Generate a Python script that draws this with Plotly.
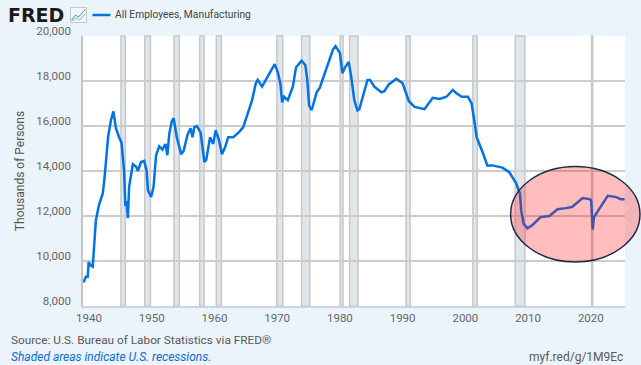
import plotly.graph_objects as go

years = [1939.15,1939.5,1939.8,1939.95,1940.3,1940.6,1941.1,1941.6,1942.2,1942.45,1943.05,1943.5,1943.9,1944.3,1944.8,1945.2,1945.6,1945.8,1946.0,1946.2,1946.4,1947.0,1947.5,1947.8,1948.3,1948.8,1949.2,1949.4,1949.9,1950.3,1950.7,1951.2,1951.7,1952.2,1952.5,1952.8,1953.2,1953.5,1954.0,1954.7,1955.1,1955.7,1956.2,1956.5,1956.8,1957.2,1957.8,1958.4,1958.7,1959.3,1959.8,1960.2,1960.7,1961.2,1961.7,1962.2,1963.0,1964.0,1964.6,1965.4,1966.0,1966.6,1966.9,1967.6,1968.4,1968.9,1969.6,1970.1,1970.5,1970.8,1971.1,1971.7,1972.5,1973.0,1973.9,1974.5,1974.8,1975.1,1975.5,1976.3,1976.8,1977.6,1978.4,1978.9,1979.3,1980.0,1980.4,1980.8,1981.4,1981.8,1982.3,1982.8,1983.1,1983.8,1984.4,1984.8,1985.5,1986.6,1987.1,1987.8,1989.0,1990.0,1991.0,1991.9,1992.7,1993.5,1994.8,1995.9,1997.0,1998.0,1998.6,1999.4,2000.4,2001.0,2001.5,2001.8,2002.8,2003.5,2004.3,2005.9,2007.0,2008.1,2008.7,2008.9,2009.3,2009.9,2010.7,2012.0,2013.4,2014.7,2016.0,2017.0,2018.7,2019.8,2020.05,2020.3,2020.5,2021.2,2022.7,2023.9,2024.8,2025.4]
employees = [9050,9300,9300,9950,9800,9750,11800,12500,13000,13600,15500,16250,16650,15900,15500,15250,14000,12450,12650,11900,13300,14300,14200,14000,14400,14450,14000,13150,12850,13300,14700,15100,14950,15200,14700,15650,16200,16350,15500,14750,14900,15600,15900,15500,15950,16000,15700,14400,14500,15500,15200,15800,15400,14750,15050,15500,15500,15750,15950,16600,17150,17900,18050,17750,18150,18350,18750,18400,17900,17050,17300,17150,17750,18600,18900,18700,18050,16900,16700,17500,17700,18350,19000,19400,19550,19250,18350,18600,18850,18200,17150,16700,16750,17450,18050,18050,17750,17500,17550,17850,18100,17900,17100,16850,16800,16750,17250,17200,17300,17600,17450,17300,17300,17000,16100,15500,14800,14250,14250,14150,13950,13450,13000,12250,11650,11450,11600,11950,12000,12300,12350,12400,12800,12750,12700,11400,11950,12250,12900,12850,12750,12750]
recession_start = [1945.1,1948.9,1953.55,1957.65,1960.3,1969.95,1973.9,1980.05,1981.55,1990.55,2001.2,2007.95,2020.12]
recession_end = [1945.8,1949.8,1954.4,1958.35,1961.1,1970.9,1975.2,1980.5,1982.9,1991.2,2001.9,2009.5,2020.3]
y_ticks = [8000,10000,12000,14000,16000,18000,20000]
x_ticks = [1940,1950,1960,1970,1980,1990,2000,2010,2020]
series_name = "All Employees, Manufacturing"

W, H = 641, 365
L, R, T, B = 82.5, 625, 36, 306
px = lambda v: (v - L) / (R - L)
py = lambda v: (B - v) / (B - T)

shapes = []
for s, e in zip(recession_start, recession_end):
    shapes.append(dict(type="rect", xref="x", yref="paper", x0=s, x1=e, y0=0, y1=1,
                       fillcolor="#e1e6eb", line=dict(color="#c6c8ca", width=1.5), layer="below"))
# legend key
shapes.append(dict(type="line", xref="paper", yref="paper", x0=px(92), x1=px(110), y0=py(15), y1=py(15),
                   line=dict(color="#0073e6", width=2.5)))
# FRED logo icon
shapes.append(dict(type="rect", xref="paper", yref="paper", x0=px(70), x1=px(86), y0=py(22.5), y1=py(7.5),
                   fillcolor="#f4f8fb", line=dict(color="#c4c8cc", width=1)))
shapes.append(dict(type="path", xref="paper", yref="paper",
                   path=f"M {px(71)},{py(20)} L {px(75)},{py(15)} L {px(78)},{py(17)} L {px(85)},{py(9)}",
                   line=dict(color="#4a90d9", width=1)))
shapes.append(dict(type="path", xref="paper", yref="paper",
                   path=f"M {px(71)},{py(21)} L {px(76)},{py(18)} L {px(79)},{py(20)} L {px(85)},{py(14)}",
                   line=dict(color="#6cc0a8", width=1)))
# highlight ellipse
shapes.append(dict(type="circle", xref="paper", yref="paper", x0=px(510.5), x1=px(640), y0=py(262), y1=py(166.5),
                   fillcolor="rgba(255,0,0,0.26)", line=dict(color="#1c2c48", width=1.5), layer="above"))

fig = go.Figure(go.Scatter(x=years, y=employees, mode="lines", name=series_name,
                           line=dict(color="#0073e6", width=2.5), showlegend=False))

GRAY = "#595959"
def note(text, x, y, size=11.5, color=GRAY, anchor="left", **kw):
    return dict(text=text, xref="paper", yref="paper", x=px(x), y=py(y), xanchor=anchor, yanchor="middle",
                showarrow=False, font=dict(size=size, color=color, family=kw.pop("family", "Roboto")), **kw)

annotations = [
    note("<b>FRED</b>", 5.5, 15, size=19, color="#1a1a1a", family="DejaVu Sans"),
    note(series_name, 113, 14.5, size=10.3, color="#444444"),
    note("Source: U.S. Bureau of Labor Statistics via FRED®", 8.5, 340, size=11.8),
    note("<i>Shaded areas indicate U.S. recessions.</i>", 8.5, 357, size=12, color="#0a6ed1"),
    note("myf.red/g/1M9Ec", 625, 357, size=12, anchor="right"),
]

fig.update_layout(
    width=W, height=H, autosize=False,
    margin=dict(l=L, r=W - R, t=T, b=H - B, pad=0),
    paper_bgcolor="#ebf3fb", plot_bgcolor="#ffffff",
    font=dict(family="Roboto", size=11.5, color="#666666"),
    shapes=shapes, annotations=annotations, showlegend=False,
)
fig.update_xaxes(range=[1939.05, 2025.45], tickvals=x_ticks, ticktext=[str(t) for t in x_ticks],
                 showgrid=False, zeroline=False, showline=True, linecolor="#c8d6e4", linewidth=1.5,
                 ticks="", tickfont=dict(size=11.5, color="#666666"))
fig.update_yaxes(range=[8000, 20000], tickvals=y_ticks, ticktext=[f"{t:,}" for t in y_ticks],
                 showgrid=True, gridcolor="#cccccc", gridwidth=1.5, zeroline=False,
                 showline=True, linecolor="#c4c4c4", linewidth=1.5, ticks="", ticklabelstandoff=8,
                 ticklabelshift=-5, tickfont=dict(size=11.5, color="#666666"),
                 title=dict(text="Thousands of Persons", font=dict(size=12, color="#555555"), standoff=9))
fig.write_html("out.html", config={"displayModeBar": False},
               post_script="document.body.style.margin='0';document.body.style.overflow='hidden';document.documentElement.style.background='#ebf3fb';")
